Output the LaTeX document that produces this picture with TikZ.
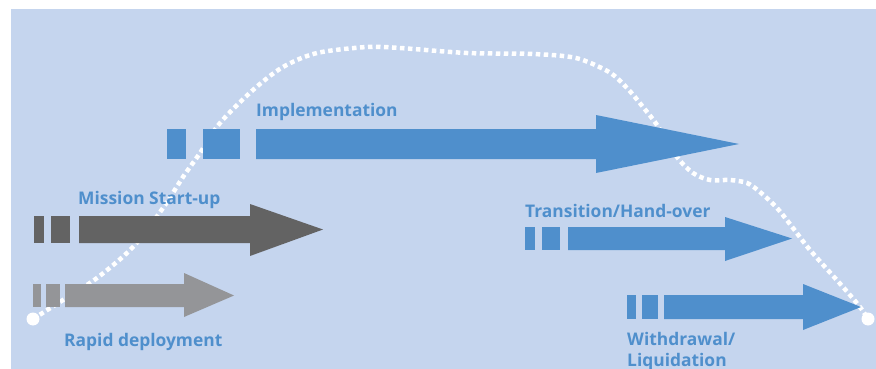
\documentclass[tikz,border=0pt]{standalone}
\usepackage{fontspec}
\setmainfont{Open Sans}
\definecolor{bg}{HTML}{C5D5EE}
\definecolor{arrblue}{HTML}{4F8FCC}
\definecolor{darkgr}{HTML}{636363}
\definecolor{lightgr}{HTML}{949598}
\definecolor{txtblue}{HTML}{4F8FCC}
\begin{document}
\begin{tikzpicture}[x=1pt,y=-1pt,
  lbl/.style={anchor=base west, inner sep=0pt, text=txtblue, font=\fontsize{17.4}{21}\selectfont\bfseries},
  pathdots/.style={white, line width=4.5pt, dash pattern=on 4.5pt off 3.5pt},
  enddot/.style={circle, fill=white, inner sep=0pt, minimum size=13pt}]
\useasboundingbox (0,0) rectangle (876,369);
\fill[white] (0,0) rectangle (876,369);
\fill[bg] (11,9) rectangle (876,369);
% dotted curve
\node[enddot] (start) at (33,319) {};
\node[enddot] (end) at (868,319) {};
\draw[pathdots] plot[smooth, tension=0.5] coordinates {
 (33,319) (63,300) (97,278) (133,247) (163,208) (183,177) (200,153) (220,123)
 (253,90) (283,67) (317,53) (367,47) (400,48) (467,53) (533,54) (576,58)
 (609,72) (627,88) (643,107) (657,125) (677,157) (693,173) (710,180) (730,180)
 (747,183) (760,192) (777,208) (793,228) (810,250) (843,287) (860,307) (868,319)};
% Implementation
\fill[arrblue] (167,129) rectangle (186,159);
\fill[arrblue] (203,129) rectangle (240,159);
\fill[arrblue] (256,129) -- (596,129) -- (596,115) -- (739,144) -- (596,173) -- (596,159) -- (256,159) -- cycle;
% Mission start-up
\fill[darkgr] (34,216) rectangle (44,243);
\fill[darkgr] (51,216) rectangle (70,243);
\fill[darkgr] (79,216) -- (250,216) -- (250,204) -- (323,229.5) -- (250,256) -- (250,243) -- (79,243) -- cycle;
% Rapid deployment
\fill[lightgr] (33,284) rectangle (41,307);
\fill[lightgr] (46,284) rectangle (60,307);
\fill[lightgr] (65,284) -- (184,284) -- (184,273) -- (234,295.5) -- (184,317) -- (184,307) -- (65,307) -- cycle;
% Transition
\fill[arrblue] (525,227) rectangle (535,250);
\fill[arrblue] (542,227) rectangle (560,250);
\fill[arrblue] (568,227) -- (725,227) -- (725,217) -- (792,238.5) -- (725,261) -- (725,250) -- (568,250) -- cycle;
% Withdrawal
\fill[arrblue] (627,295) rectangle (636,319);
\fill[arrblue] (642,295) rectangle (658,319);
\fill[arrblue] (664,295) -- (803,295) -- (803,284) -- (861,307) -- (803,330) -- (803,319) -- (664,319) -- cycle;
% labels
\node[lbl] (impl) at (256,116) {Implementation};
\node[lbl] (miss) at (78,204) {Mission Start-up};
\node[lbl] (rapid) at (64,346) {Rapid deployment};
\node[lbl] (trans) at (525,217) {Transition/Hand-over};
\node[lbl] (withd) at (627,345) {Withdrawal/};
\node[lbl] (liq) at (627,366) {Liquidation};
\end{tikzpicture}
\end{document}
